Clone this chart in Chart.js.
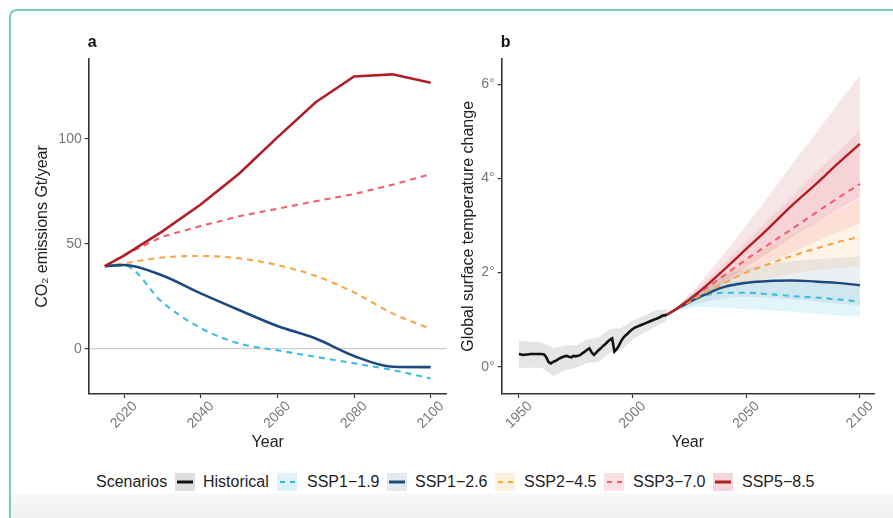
<!DOCTYPE html>
<html>
<head>
<meta charset="utf-8">
<script src="https://cdn.jsdelivr.net/npm/chart.js@4.4.1/dist/chart.umd.min.js"></script>
<style>
html,body{margin:0;padding:0;background:#fff;width:893px;height:518px;overflow:hidden;font-family:'Liberation Sans',Arial,Helvetica,sans-serif;}
#frame{position:absolute;left:9px;top:9px;width:920px;height:540px;border-top:2px solid #7ccbbf;border-left:2px solid #7ccbbf;border-top-left-radius:8px;box-sizing:border-box;}
#fade{position:absolute;left:11px;top:493px;width:882px;height:25px;background:linear-gradient(#f9f9f9,#f0f0f0);}
canvas{position:absolute;top:0;}
#ca{left:0;}
#cb{left:450px;}
.lt{position:absolute;top:473px;height:18px;line-height:18px;font-size:16px;color:#222;white-space:nowrap;}
.key{position:absolute;top:473px;width:20px;height:18px;}
</style>
</head>
<body>
<div id="frame"></div>
<div id="fade"></div>
<canvas id="ca" width="450" height="460"></canvas>
<canvas id="cb" width="443" height="460"></canvas>
<div id="legend"></div>
<script>
// ---------------- DATA ----------------
// Panel a: CO2 emissions (Gt/year)
const yearsA = [2015, 2020, 2030, 2040, 2050, 2060, 2070, 2080, 2090, 2100];
const co2_ssp119 = [39.5, 39.8, 22.3, 10.0, 2.7, -0.6, -3.7, -6.8, -10.0, -14.0];
const co2_ssp126 = [39.5, 40.0, 35.0, 26.5, 18.6, 11.0, 5.0, -3.3, -8.4, -8.6];
const co2_ssp245 = [39.5, 40.8, 43.6, 44.3, 43.2, 40.0, 34.8, 27.0, 17.0, 9.6];
const co2_ssp370 = [39.5, 44.8, 53.5, 58.6, 63.2, 66.8, 70.4, 73.8, 78.2, 83.3];
const co2_ssp585 = [39.5, 44.5, 56.0, 68.8, 83.5, 100.8, 117.5, 129.8, 130.8, 126.8];
const ticksA_x = [2020, 2040, 2060, 2080, 2100];
const ticksA_y = [0, 50, 100];

// Panel b: historical global surface temperature change
const yearsHist = [1950,1951,1952,1953,1954,1955,1956,1957,1958,1959,
                   1960,1961,1962,1963,1964,1965,1966,1967,1968,1969,
                   1970,1971,1972,1973,1974,1975,1976,1977,1978,1979,
                   1980,1981,1982,1983,1984,1985,1986,1987,1988,1989,
                   1990,1991,1992,1993,1994,1995,1996,1997,1998,1999,
                   2000,2001,2002,2003,2004,2005,2006,2007,2008,2009,
                   2010,2011,2012,2013,2014,2015];
const tempHist = [0.27,0.26,0.25,0.26,0.26,0.27,0.27,0.27,0.27,0.27,
                  0.27,0.26,0.20,0.10,0.07,0.10,0.12,0.15,0.18,0.20,
                  0.22,0.23,0.21,0.20,0.23,0.22,0.23,0.25,0.29,0.32,
                  0.36,0.39,0.30,0.25,0.30,0.35,0.39,0.44,0.48,0.53,
                  0.57,0.60,0.32,0.37,0.45,0.55,0.62,0.67,0.71,0.76,
                  0.80,0.83,0.85,0.87,0.89,0.91,0.93,0.95,0.97,0.99,
                  1.01,1.03,1.05,1.08,1.09,1.10];
const yearsHistBand = [1950,1955,1960,1965,1970,1975,1980,1985,1990,1995,2000,2005,2010,2015];
const tempHistHi = [0.55,0.53,0.52,0.40,0.45,0.45,0.58,0.62,0.80,0.82,0.98,1.08,1.20,1.22];
const tempHistLo = [-0.03,-0.02,-0.02,-0.20,-0.08,-0.02,0.08,0.10,0.30,0.35,0.58,0.72,0.85,0.97];

// Panel b: projections
const yearsB = [2015, 2020, 2030, 2040, 2050, 2060, 2070, 2080, 2090, 2100];
const t_ssp119    = [1.10, 1.24, 1.48, 1.57, 1.57, 1.54, 1.50, 1.47, 1.43, 1.38];
const t_ssp119_lo = [1.10, 1.18, 1.27, 1.25, 1.22, 1.20, 1.17, 1.13, 1.09, 1.06];
const t_ssp119_hi = [1.10, 1.28, 1.62, 1.78, 1.82, 1.81, 1.79, 1.77, 1.76, 1.75];
const t_ssp126    = [1.10, 1.24, 1.49, 1.69, 1.78, 1.82, 1.83, 1.81, 1.78, 1.73];
const t_ssp126_lo = [1.10, 1.20, 1.35, 1.45, 1.48, 1.46, 1.43, 1.39, 1.34, 1.30];
const t_ssp126_hi = [1.10, 1.30, 1.65, 1.93, 2.08, 2.18, 2.24, 2.28, 2.31, 2.34];
const t_ssp245    = [1.10, 1.24, 1.52, 1.77, 2.00, 2.18, 2.35, 2.50, 2.64, 2.76];
const t_ssp245_lo = [1.10, 1.22, 1.44, 1.62, 1.78, 1.88, 1.97, 2.04, 2.09, 2.12];
const t_ssp245_hi = [1.10, 1.27, 1.62, 1.95, 2.27, 2.54, 2.81, 3.07, 3.31, 3.54];
const t_ssp370    = [1.10, 1.25, 1.58, 1.93, 2.28, 2.60, 2.92, 3.25, 3.57, 3.88];
const t_ssp370_lo = [1.10, 1.22, 1.48, 1.74, 1.99, 2.21, 2.42, 2.64, 2.85, 3.04];
const t_ssp370_hi = [1.10, 1.29, 1.72, 2.19, 2.67, 3.13, 3.60, 4.08, 4.55, 5.02];
const t_ssp585    = [1.10, 1.25, 1.62, 2.05, 2.50, 2.95, 3.42, 3.85, 4.30, 4.73];
const t_ssp585_lo = [1.10, 1.21, 1.48, 1.79, 2.11, 2.42, 2.75, 3.03, 3.33, 3.60];
const t_ssp585_hi = [1.10, 1.30, 1.80, 2.39, 3.00, 3.63, 4.29, 4.91, 5.56, 6.19];
const ticksB_x = [1950, 2000, 2050, 2100];
const ticksB_y = [0, 2, 4, 6];
const ticksB_yLabels = ['0°', '2°', '4°', '6°'];

// Legend
const legendTitle = 'Scenarios';
const scenarioNames = ['Historical', 'SSP1−1.9', 'SSP1−2.6', 'SSP2−4.5', 'SSP3−7.0', 'SSP5−8.5'];

// ---------------- STYLE ----------------
const FONT = "'Liberation Sans', Arial, Helvetica, sans-serif";
Chart.defaults.font.family = FONT;
const col = {
  hist: '#111111', s119: '#3cbde0', s126: '#1d4a7e', s245: '#f8a543', s370: '#f0606e', s585: '#b01e28'
};
const band = {
  hist: 'rgba(0,0,0,0.10)', s119: 'rgba(60,189,224,0.15)', s126: 'rgba(29,74,126,0.09)',
  s245: 'rgba(248,165,67,0.13)', s370: 'rgba(240,96,110,0.14)', s585: 'rgba(176,30,40,0.11)'
};
const dashes = { hist: [], s119: [6,5], s126: [], s245: [6,5], s370: [6,5], s585: [] };
const keysOrder = ['hist','s119','s126','s245','s370','s585'];

const pts = (xs, ys) => xs.map((x, i) => ({ x: x, y: ys[i] }));

const panelLetter = {
  id: 'panelLetter',
  afterDraw(chart, args, opts) {
    const { ctx, chartArea } = chart;
    ctx.save();
    ctx.font = 'bold 16px ' + FONT;
    ctx.fillStyle = '#111';
    ctx.textAlign = 'left';
    ctx.textBaseline = 'middle';
    ctx.fillText(opts.text, chartArea.left - 1, 43);
    ctx.restore();
  }
};

function axisX(min, max, tickVals, fitH) {
  return {
    type: 'linear', min: min, max: max,
    afterBuildTicks: s => { s.ticks = tickVals.map(v => ({ value: v })); },
    afterFit: s => { s.height = fitH; s.paddingLeft = 0; s.paddingRight = 0; },
    ticks: { color: '#777', font: { size: 14 }, minRotation: 45, maxRotation: 45, autoSkip: false, padding: 0, labelOffset: 11,
             callback: v => String(v) },
    grid: { drawOnChartArea: false, tickLength: 4, tickColor: '#333', tickWidth: 1.2 },
    border: { color: '#333', width: 1.6 },
    title: { display: true, text: 'Year', color: '#222', font: { size: 16 }, padding: { top: 0, bottom: 7.4 } }
  };
}
function axisY(min, max, tickVals, fitW, title, titlePad, labels, zeroLine) {
  return {
    type: 'linear', min: min, max: max,
    afterBuildTicks: s => { s.ticks = tickVals.map(v => ({ value: v })); },
    afterFit: s => { s.width = fitW; s.paddingTop = 0; s.paddingBottom = 0; },
    ticks: {
      color: '#777', font: { size: 14 }, padding: 3,
      callback: (v) => labels ? labels[tickVals.indexOf(v)] : String(v)
    },
    grid: {
      drawOnChartArea: zeroLine, tickLength: 4, tickColor: '#333', tickWidth: 1.2, lineWidth: 1.2,
      color: ctx => (zeroLine && ctx.tick && ctx.tick.value === 0) ? '#cfcfcf' : 'rgba(0,0,0,0)'
    },
    border: { color: '#333', width: 1.6 },
    title: { display: true, text: title, color: '#222', font: { size: 16 }, padding: { top: titlePad, bottom: 0 } }
  };
}

// ---------------- PANEL A ----------------
function lineA(key, ys, w, smooth) {
  return {
    data: pts(yearsA, ys), borderColor: col[key], borderWidth: w, borderDash: dashes[key],
    pointRadius: 0, fill: false, tension: 0, cubicInterpolationMode: smooth ? 'monotone' : 'default'
  };
}
new Chart(document.getElementById('ca'), {
  type: 'line',
  data: {
    datasets: [
      lineA('s585', co2_ssp585, 2.6, false),
      lineA('s126', co2_ssp126, 2.6, true),
      lineA('s370', co2_ssp370, 2.1, false),
      lineA('s245', co2_ssp245, 2.1, true),
      lineA('s119', co2_ssp119, 2.1, true)
    ]
  },
  options: {
    responsive: false, animation: false, devicePixelRatio: 1,
    layout: { padding: { left: 0, right: 3.3, top: 59, bottom: 0 } },
    plugins: { legend: { display: false }, tooltip: { enabled: false }, panelLetter: { text: 'a' } },
    scales: {
      x: axisX(2010.79, 2104.17, ticksA_x, 66),
      y: axisY(-21.4, 138.1, ticksA_y, 88.7, 'CO₂ emissions Gt/year', 33.4, null, true)
    }
  },
  plugins: [panelLetter]
});

// ---------------- PANEL B ----------------
function bandPair(xs, hi, lo, color, smooth) {
  return [
    { data: pts(xs, hi), borderWidth: 0, pointRadius: 0, backgroundColor: color, fill: '+1', order: 5,
      tension: 0, cubicInterpolationMode: smooth ? 'monotone' : 'default' },
    { data: pts(xs, lo), borderWidth: 0, pointRadius: 0, fill: false, order: 5,
      tension: 0, cubicInterpolationMode: smooth ? 'monotone' : 'default' }
  ];
}
function lineB(key, xs, ys, w, smooth, order) {
  return {
    data: pts(xs, ys), borderColor: col[key], borderWidth: w, borderDash: dashes[key],
    pointRadius: 0, fill: false, tension: 0, cubicInterpolationMode: smooth ? 'monotone' : 'default', order: order
  };
}
new Chart(document.getElementById('cb'), {
  type: 'line',
  data: {
    datasets: [
      ...bandPair(yearsHistBand, tempHistHi, tempHistLo, band.hist, false),
      ...bandPair(yearsB, t_ssp119_hi, t_ssp119_lo, band.s119, true),
      ...bandPair(yearsB, t_ssp126_hi, t_ssp126_lo, band.s126, true),
      ...bandPair(yearsB, t_ssp245_hi, t_ssp245_lo, band.s245, true),
      ...bandPair(yearsB, t_ssp370_hi, t_ssp370_lo, band.s370, true),
      ...bandPair(yearsB, t_ssp585_hi, t_ssp585_lo, band.s585, true),
      lineB('hist', yearsHist, tempHist, 2.6, false, 1),
      lineB('s585', yearsB, t_ssp585, 2.4, true, 1),
      lineB('s370', yearsB, t_ssp370, 2.1, true, 2),
      lineB('s245', yearsB, t_ssp245, 2.1, true, 2),
      lineB('s126', yearsB, t_ssp126, 2.4, true, 2),
      lineB('s119', yearsB, t_ssp119, 2.1, true, 3)
    ]
  },
  options: {
    responsive: false, animation: false, devicePixelRatio: 1,
    layout: { padding: { left: 0, right: 19, top: 58.7, bottom: 0 } },
    plugins: { legend: { display: false }, tooltip: { enabled: false }, panelLetter: { text: 'b' } },
    scales: {
      x: axisX(1942.4, 2106.2, ticksB_x, 66),
      y: axisY(-0.58, 6.54, ticksB_y, 51.7, 'Global surface temperature change', 8.7, ticksB_yLabels, false)
    }
  },
  plugins: [panelLetter]
});

// ---------------- LEGEND (HTML) ----------------
const legendTitleLeft = 96;
const keyLefts = [175, 277, 387, 495, 604, 713];
const textLefts = [203, 307, 415, 524, 633, 742];
const keyBg = { hist: '#dedede', s119: '#ddf3f9', s126: '#e4e9f0', s245: '#fdf0df', s370: '#fce1e4', s585: '#f2d7da' };
const leg = document.getElementById('legend');
let html = '<div class="lt" style="left:' + legendTitleLeft + 'px">' + legendTitle + '</div>';
keysOrder.forEach((k, i) => {
  const dashed = dashes[k].length > 0;
  const line = dashed
    ? '<line x1="2" y1="9" x2="18" y2="9" stroke="' + col[k] + '" stroke-width="2" stroke-dasharray="5,5" stroke-dashoffset="-1"/>'
    : '<line x1="2" y1="9" x2="18" y2="9" stroke="' + col[k] + '" stroke-width="3"/>';
  html += '<svg class="key" style="left:' + keyLefts[i] + 'px" width="20" height="18"><rect width="20" height="18" fill="' + keyBg[k] + '"/>' + line + '</svg>';
  html += '<div class="lt" style="left:' + textLefts[i] + 'px">' + scenarioNames[i] + '</div>';
});
leg.innerHTML = html;
</script>
</body>
</html>
